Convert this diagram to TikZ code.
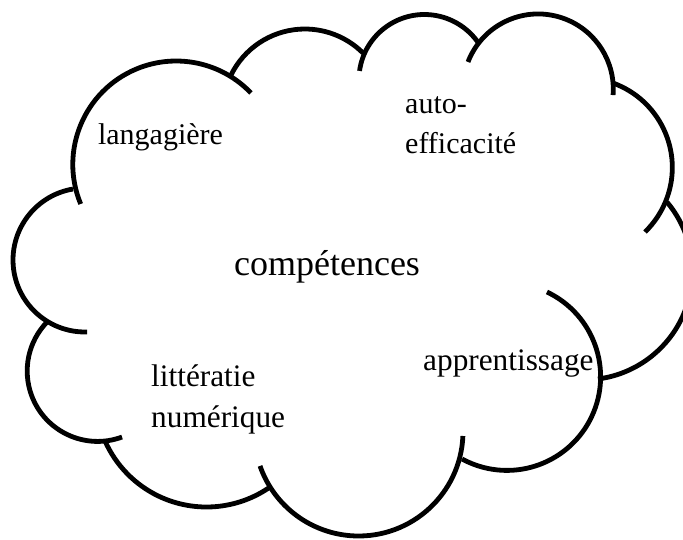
\documentclass[tikz,border=0pt]{standalone}
\usepackage{fontspec}
\setmainfont{Liberation Serif}
\newcommand{\cloudarc}[5]{\draw[lobe] (#1,#2) ++(#3:#5) arc[start angle=#3, end angle=#4, radius=#5];}
\begin{document}
\begin{tikzpicture}[x=1pt,y=-1pt,
  lobe/.style={line width=4.8pt, line cap=butt},
  lbl/.style={font=\fontsize{30}{40.5}\selectfont, inner sep=0pt, align=left},
  lblb/.style={font=\fontsize{31.3}{41}\selectfont, inner sep=0pt, align=left},
  big/.style={font=\fontsize{36}{44}\selectfont, inner sep=0pt}]
\useasboundingbox (0,0) rectangle (683,539);
% cloud outline (arcs)
\cloudarc{176.2}{164.4}{157.5}{316.3}{103.4}
\cloudarc{304.9}{111.3}{206.2}{314.9}{82.3}
\cloudarc{424.4}{80}{188}{325.4}{65.5}
\cloudarc{538.1}{89.15}{201.2}{364.5}{75.2}
\cloudarc{582.5}{167.5}{289.8}{405.9}{89.8}
\cloudarc{584}{271.6}{320}{442.6}{108.3}
\cloudarc{506.9}{376.7}{-64.7}{118.6}{93.7}
\cloudarc{358.6}{431.6}{2.4}{160.8}{104.4}
\cloudarc{206.5}{396}{55.1}{156.1}{111}
\cloudarc{97.6}{371}{69.7}{224.1}{70.4}
\cloudarc{85}{260}{88.4}{260.4}{72}
% labels
\node[lbl, anchor=base] (lang) at (160.5,144) {langagière};
\node[lbl, anchor=base west] (auto) at (405,153.5) {auto-\\efficacité};
\node[big, anchor=base] (comp) at (327,275) {compétences};
\node[lblb, anchor=base west] (app) at (423,370) {apprentissage};
\node[lblb, anchor=base west] (litt) at (151,427) {littératie\\numérique};
\end{tikzpicture}
\end{document}
